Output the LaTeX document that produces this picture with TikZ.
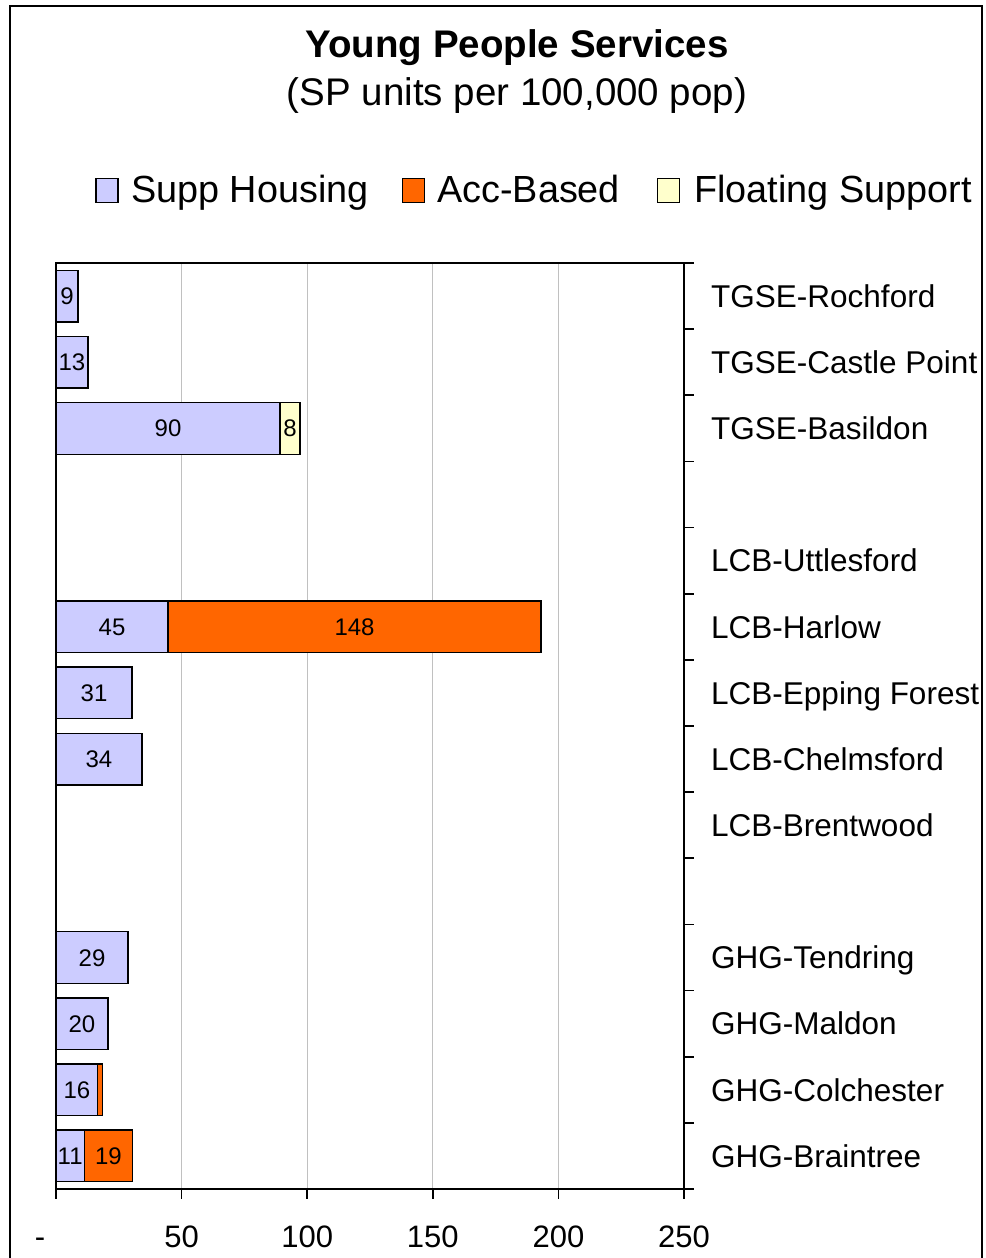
\documentclass[tikz,border=0pt]{standalone}
\usepackage{fontspec}
\setmainfont{Liberation Sans}
\definecolor{suppblue}{HTML}{CCCCFF}
\definecolor{accorange}{HTML}{FF6600}
\definecolor{floatyellow}{HTML}{FFFFCC}
\definecolor{gridgray}{HTML}{C0C0C0}
\tikzset{
  suppbar/.style={draw=black, fill=suppblue, line width=1.3pt},
  accbar/.style={draw=black, fill=accorange, line width=1.3pt},
  floatbar/.style={draw=black, fill=floatyellow, line width=1.3pt},
  gridline/.style={draw=gridgray, line width=1pt},
  axisline/.style={draw=black, line width=1.6pt},
  barval/.style={inner sep=0pt, text height=17pt, text depth=0pt, font=\fontsize{24}{28}\selectfont},
  catname/.style={anchor=west, inner sep=0pt, text height=22.5pt, text depth=0pt, font=\fontsize{31.5}{36}\selectfont},
  ticknum/.style={anchor=base, inner sep=0pt, font=\fontsize{31}{36}\selectfont},
  legtext/.style={anchor=base west, inner sep=0pt, font=\fontsize{37.8}{44}\selectfont},
  legbox/.style={draw=black, line width=1.3pt, minimum width=22pt, minimum height=24pt, inner sep=0pt}
}
\begin{document}
\begin{tikzpicture}[x=1pt, y=-1pt]
\useasboundingbox (0,0) rectangle (985,1258);
% Frame
\draw[line width=2pt] (10,1270) -- (10,6) -- (982,6) -- (982,1270);

% Titles
\node[anchor=base, inner sep=0pt, font=\fontsize{38.5}{46}\selectfont\bfseries] (title) at (517,57) {Young People Services};
\node[anchor=base, inner sep=0pt, font=\fontsize{38.5}{46}\selectfont] (subtitle) at (517,105) {(SP units per 100,000 pop)};

% Legend
\node[legbox, fill=suppblue] (keysupp) at (107,190.5) {};
\node[legtext] (labsupp) at (131,202) {Supp Housing};
\node[legbox, fill=accorange] (keyacc) at (413.5,190.5) {};
\node[legtext] (labacc) at (437,202) {Acc-Based};
\node[legbox, fill=floatyellow] (keyfloat) at (668.5,190.5) {};
\node[legtext] (labfloat) at (694,202) {Floating Support};

\begin{scope}[shift={(56,263)}, x=2.512pt, y=-66.143pt]
% Grid
\foreach \v in {50,100,150,200}
  \draw[gridline] (\v,0) -- (\v,14);

% Bars
\draw[suppbar] (0,0.11) rectangle (8.8,0.89);
\draw[suppbar] (0,1.11) rectangle (12.7,1.89);
\draw[suppbar] (0,2.11) rectangle (89.2,2.89);
\draw[floatbar] (89.2,2.11) rectangle (97.1,2.89);
\draw[suppbar] (0,5.11) rectangle (44.6,5.89);
\draw[accbar] (44.6,5.11) rectangle (193.1,5.89);
\draw[suppbar] (0,6.11) rectangle (30.3,6.89);
\draw[suppbar] (0,7.11) rectangle (34.2,7.89);
\draw[suppbar] (0,10.11) rectangle (28.7,10.89);
\draw[suppbar] (0,11.11) rectangle (20.7,11.89);
\draw[suppbar] (0,12.11) rectangle (16.6,12.89);
\draw[accbar] (16.6,12.11) rectangle (18.4,12.89);
\draw[suppbar] (0,13.11) rectangle (11.3,13.89);
\draw[accbar] (11.3,13.11) rectangle (30.4,13.89);

% Bar values
\node[barval] (rochfordsupp) at (4.4,0.5) {9};
\node[barval] (castlesupp) at (6.35,1.5) {13};
\node[barval] (basildonsupp) at (44.6,2.5) {90};
\node[barval] (basildonfloat) at (93.15,2.5) {8};
\node[barval] (harlowsupp) at (22.3,5.5) {45};
\node[barval] (harlowacc) at (118.85,5.5) {148};
\node[barval] (eppingsupp) at (15.15,6.5) {31};
\node[barval] (chelmsfordsupp) at (17.1,7.5) {34};
\node[barval] (tendringsupp) at (14.35,10.5) {29};
\node[barval] (maldonsupp) at (10.35,11.5) {20};
\node[barval] (colchestersupp) at (8.3,12.5) {16};
\node[barval] (braintreesupp) at (5.65,13.5) {11};
\node[barval] (braintreeacc) at (20.85,13.5) {19};

% Axes
\draw[axisline] (0,0) rectangle (250,14);
\foreach \r in {0,...,14}
  \draw[axisline] (250,\r) -- ++(10pt,0);
\foreach \v in {0,50,...,250}
  \draw[axisline] (\v,14) -- ++(0,-10pt);
\end{scope}

% Axis numbers
\node[ticknum] (tick0) at (40,1247) {-};
\foreach \v in {50,100,...,250}
  \node[ticknum] (tick\v) at ({56+2.512*\v},1247) {\v};

% Categories
\node[catname] (rochford) at (711,296.1) {TGSE-Rochford};
\node[catname] (castlepoint) at (711,362.2) {TGSE-Castle Point};
\node[catname] (basildon) at (711,428.4) {TGSE-Basildon};
\node[catname] (uttlesford) at (711,560.6) {LCB-Uttlesford};
\node[catname] (harlow) at (711,626.8) {LCB-Harlow};
\node[catname] (epping) at (711,692.9) {LCB-Epping Forest};
\node[catname] (chelmsford) at (711,759.1) {LCB-Chelmsford};
\node[catname] (brentwood) at (711,825.2) {LCB-Brentwood};
\node[catname] (tendring) at (711,957.5) {GHG-Tendring};
\node[catname] (maldon) at (711,1023.6) {GHG-Maldon};
\node[catname] (colchester) at (711,1089.8) {GHG-Colchester};
\node[catname] (braintree) at (711,1155.9) {GHG-Braintree};
\end{tikzpicture}
\end{document}
